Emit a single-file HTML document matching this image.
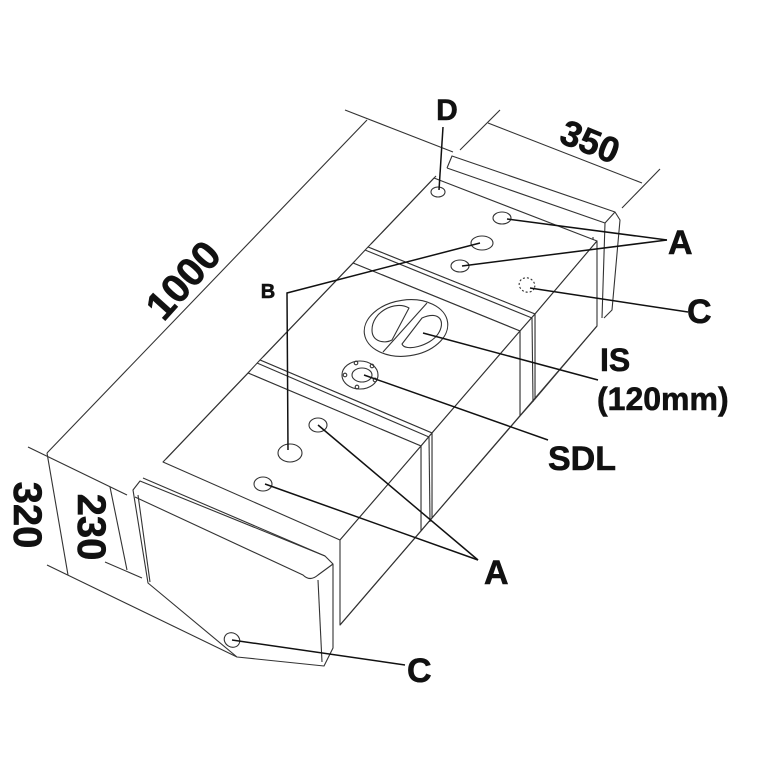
<!DOCTYPE html>
<html><head><meta charset="utf-8"><style>
html,body{margin:0;padding:0;background:#fff}
svg{display:block}
text{font-family:"Liberation Sans",Arial,sans-serif;font-weight:bold;fill:#111;stroke:#111;stroke-width:0.6}
</style></head><body>
<svg width="768" height="768" viewBox="0 0 768 768" xmlns="http://www.w3.org/2000/svg">
<g fill="none" stroke="#333" stroke-width="1.1" stroke-linejoin="round">
<!-- dimension lines -->
<line x1="47" y1="453" x2="367" y2="120"/>
<line x1="345" y1="110" x2="453" y2="152"/>
<line x1="28" y1="447" x2="127" y2="495"/>
<line x1="47" y1="453" x2="68" y2="575"/>
<line x1="47" y1="565" x2="237" y2="657"/>
<line x1="110" y1="487" x2="127" y2="570"/>
<line x1="105" y1="562" x2="142" y2="578"/>
<line x1="460" y1="150" x2="500" y2="110"/>
<line x1="488" y1="123" x2="642" y2="183"/>
<line x1="622" y1="208" x2="660" y2="169"/>

<!-- back flange -->
<path d="M447,168 L452,156 L615,212 L620,220 L612,310 L604,318" fill="#fff"/>
<line x1="447" y1="168" x2="605" y2="223"/>
<line x1="605" y1="223" x2="602" y2="318"/>
<line x1="615" y1="212" x2="605" y2="223"/>
<line x1="593" y1="237" x2="595" y2="325"/>

<!-- body: section 3 -->
<polygon points="368,247 434,178 597,241 535,314" fill="#fff"/>
<polygon points="535,314 597,241 597,326 535,399" fill="#fff"/>
<line x1="371" y1="244" x2="436" y2="176"/>
<!-- band 2 -->
<polygon points="353,263 368,247 535,314 520,331" fill="#fff"/>
<polygon points="520,331 535,314 535,399 520,416" fill="#fff"/>
<line x1="365" y1="250" x2="532" y2="318"/>
<line x1="532" y1="318" x2="533" y2="402"/>
<!-- section 2 -->
<polygon points="260,360 353,263 520,331 432,433" fill="#fff"/>
<polygon points="432,433 520,331 520,416 432,518" fill="#fff"/>
<line x1="263" y1="357" x2="355" y2="261"/>
<!-- band 1 -->
<polygon points="248,373 260,360 432,433 421,446" fill="#fff"/>
<polygon points="421,446 432,433 432,518 421,531" fill="#fff"/>
<line x1="257" y1="363" x2="429" y2="437"/>
<line x1="429" y1="437" x2="430" y2="522"/>
<!-- section 1 -->
<polygon points="163,462 248,373 421,446 340,540" fill="#fff"/>
<polygon points="340,540 421,446 421,531 340,625" fill="#fff"/>
<line x1="166" y1="459" x2="250" y2="371"/>
<line x1="340" y1="625" x2="597" y2="326"/>

<!-- front flange -->
<path d="M133,490 L140,481 L325,556 L333,564 L333,648 L324,666 L237,657 L148,583 Z" fill="#fff"/>
<path d="M135,497 L303,575 Q310,582 318,575 L333,564"/>
<line x1="143" y1="478" x2="325" y2="556"/>
<line x1="318" y1="580" x2="322" y2="662"/>
<line x1="138" y1="495" x2="150" y2="582"/>

<!-- holes -->
<ellipse cx="438" cy="192" rx="7" ry="5"/>
<ellipse cx="502" cy="218" rx="9" ry="6"/>
<ellipse cx="482" cy="243" rx="11" ry="7"/>
<ellipse cx="460" cy="266" rx="9" ry="6"/>
<ellipse cx="527" cy="285" rx="8" ry="7" stroke-dasharray="2,2" transform="rotate(25 527 285)"/>
<ellipse cx="318" cy="425" rx="9" ry="7"/>
<ellipse cx="290" cy="453" rx="12" ry="9"/>
<ellipse cx="263" cy="484" rx="9" ry="7"/>
<ellipse cx="232" cy="640" rx="8" ry="7" transform="rotate(30 232 640)"/>

<!-- IS port -->
<ellipse cx="406" cy="328" rx="42" ry="28" transform="rotate(-8 406 328)"/>
<line x1="427" y1="303" x2="383" y2="352"/>
<path d="M409,308 C395,300 372,312 372,330 C372,342 385,344 392,340 Z"/>
<path d="M422,318 C440,310 446,322 438,334 C430,346 405,352 402,344 Z"/>
<!-- SDL -->
<ellipse cx="360" cy="375" rx="18" ry="14"/>
<ellipse cx="362" cy="375" rx="10" ry="7"/>
<circle cx="345" cy="375" r="1.8"/><circle cx="356" cy="363" r="1.8"/><circle cx="372" cy="366" r="1.8"/><circle cx="375" cy="380" r="1.8"/><circle cx="357" cy="387" r="1.8"/>
</g>

<!-- leaders -->
<g fill="none" stroke="#111" stroke-width="1.5">
<line x1="443" y1="127" x2="439" y2="190"/>
<polyline points="480,243 287,293 288,450"/>
<line x1="507" y1="219" x2="667" y2="240"/>
<line x1="462" y1="266" x2="667" y2="240"/>
<line x1="530" y1="288" x2="688" y2="312"/>
<line x1="423" y1="333" x2="598" y2="380"/>
<line x1="364" y1="375" x2="548" y2="440"/>
<line x1="318" y1="425" x2="478" y2="560"/>
<line x1="265" y1="484" x2="478" y2="560"/>
<line x1="232" y1="640" x2="405" y2="665"/>
</g>

<!-- labels -->
<text x="447" y="120" font-size="30" text-anchor="middle">D</text>
<text x="268" y="298" font-size="20" text-anchor="middle">B</text>
<text x="668" y="254" font-size="34">A</text>
<text x="687" y="323" font-size="34">C</text>
<text x="600" y="371" font-size="32">IS</text>
<text x="597" y="410" font-size="32">(120mm)</text>
<text x="548" y="470" font-size="34">SDL</text>
<text x="484" y="584" font-size="34">A</text>
<text x="407" y="682" font-size="34">C</text>
<text x="183" y="294" font-size="40" text-anchor="middle" transform="rotate(-48 183 280)">1000</text>
<text x="590" y="154" font-size="36" text-anchor="middle" transform="rotate(22 590 142)">350</text>
<text x="28" y="529" font-size="40" text-anchor="middle" transform="rotate(90 28 515)">320</text>
<text x="92" y="541" font-size="40" text-anchor="middle" transform="rotate(90 92 527)">230</text>
</svg>
</body></html>
